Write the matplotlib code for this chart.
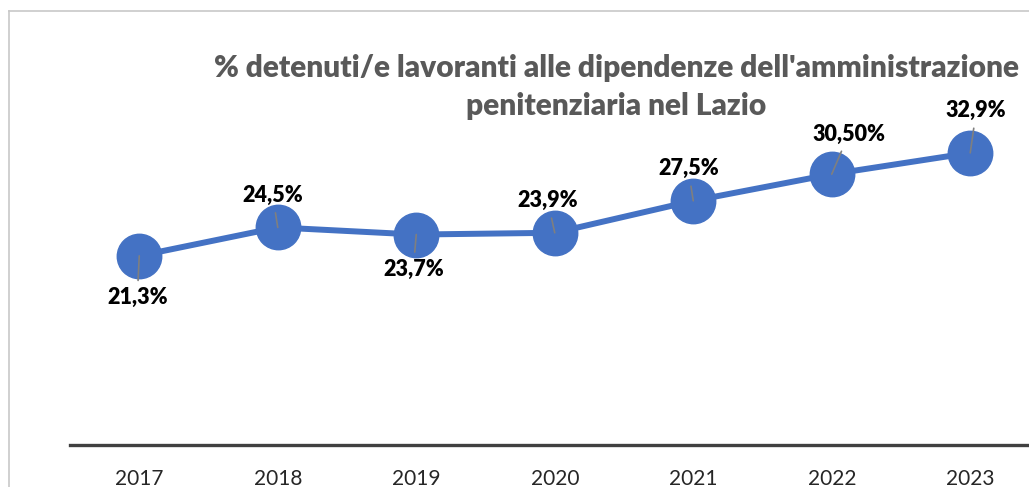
import matplotlib.pyplot as plt
from matplotlib.lines import Line2D

years = ['2017', '2018', '2019', '2020', '2021', '2022', '2023']
values = [21.3, 24.5, 23.7, 23.9, 27.5, 30.5, 32.9]
labels = ['21,3%', '24,5%', '23,7%', '23,9%', '27,5%', '30,50%', '32,9%']
# label offsets from the point, in pixels (x right, y up)
offsets = [(-2, -42), (-5, 32), (-3, -35), (-7, 32), (-5, 32), (17, 40), (6, 42)]

W, H = 1029, 487
fig = plt.figure(figsize=(W / 100, H / 100), dpi=100)
plt.rcParams['font.family'] = ['Lato', 'DejaVu Sans']

# chart border (only left and top visible)
fig.add_artist(Line2D([9 / W, 9 / W], [0, 1 - 11 / H], color='#c8c8c8', lw=1.2))
fig.add_artist(Line2D([9 / W, 1], [1 - 11 / H, 1 - 11 / H], color='#c8c8c8', lw=1.2))

ax = fig.add_axes([70 / W, (H - 445) / H, 969.5 / W, 355.2 / H])
x = list(range(len(years)))
ax.plot(x, values, color='#4472C4', lw=4.3, marker='o', ms=32, zorder=2)
ax.set_xlim(-0.5, 6.5)
ax.set_ylim(0, 40)

for xi, v, lab, (dx, dy) in zip(x, values, labels, offsets):
    ax.annotate(lab, xy=(xi, v), xytext=(dx, dy), textcoords='offset pixels',
                ha='center', va='center', fontsize=15.5, fontweight='heavy', color='black',
                arrowprops=dict(arrowstyle='-', color='#7f7f7f', lw=1.2,
                                shrinkA=3, shrinkB=0), zorder=3)

for s in ['top', 'right', 'left']:
    ax.spines[s].set_visible(False)
ax.spines['bottom'].set_color('#404040')
ax.spines['bottom'].set_linewidth(2.4)
ax.set_yticks([])
ax.set_xticks(x)
ax.set_xticklabels(years, fontsize=15, color='#262626')
ax.tick_params(axis='x', length=0, pad=17)
ax.patch.set_alpha(0)

fig.text(616 / W, 1 - 68 / H, "% detenuti/e lavoranti alle dipendenze dell'amministrazione",
         ha='center', va='center', fontsize=21.5, fontweight='heavy', color='#595959')
fig.text(616 / W, 1 - 106 / H, 'penitenziaria nel Lazio',
         ha='center', va='center', fontsize=21.5, fontweight='heavy', color='#595959')

fig.savefig('out.png', dpi=100)
